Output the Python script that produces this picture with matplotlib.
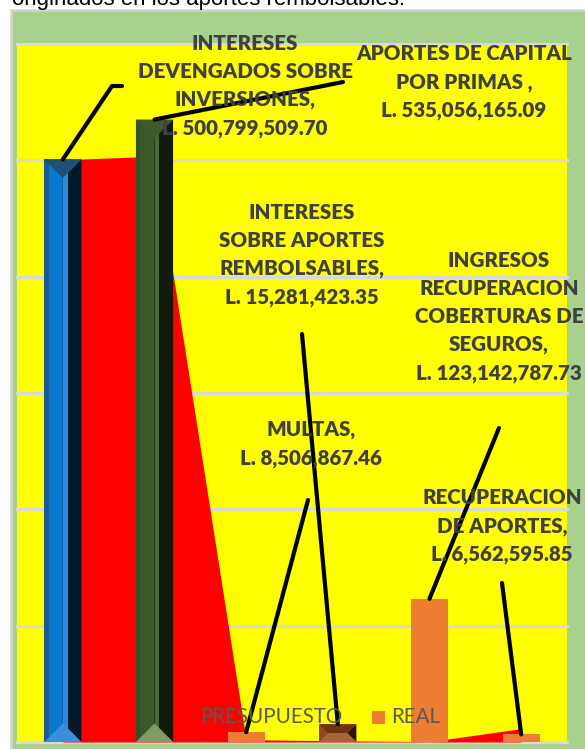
import matplotlib
matplotlib.use("Agg")
import matplotlib.pyplot as plt
from matplotlib.patches import Rectangle, Polygon
import numpy as np

# ---------------- data ----------------
categories = [
    "INTERESES DEVENGADOS SOBRE INVERSIONES",
    "APORTES DE CAPITAL POR PRIMAS ",
    "MULTAS",
    "INTERESES SOBRE APORTES REMBOLSABLES",
    "INGRESOS RECUPERACION COBERTURAS DE SEGUROS",
    "RECUPERACION DE APORTES",
]
label_names = [
    "INTERESES\nDEVENGADOS SOBRE\nINVERSIONES,",
    "APORTES DE CAPITAL\nPOR PRIMAS ,",
    "MULTAS,",
    "INTERESES\nSOBRE APORTES\nREMBOLSABLES,",
    "INGRESOS\nRECUPERACION\nCOBERTURAS DE\nSEGUROS,",
    "RECUPERACION\nDE APORTES,",
]
real = [500799509.70, 535056165.09, 8506867.46, 15281423.35, 123142787.73, 6562595.85]
presupuesto = [500.5e6, 503.5e6, 2.0e6, 1.0e6, 0.3e6, 11.5e6]
series_names = ["PRESUPUESTO", "REAL"]
y_max = 600e6
y_step = 100e6
header_text = "originados en los aportes rembolsables."

# ---------------- layout / style ----------------
W, H = 585, 749
fig = plt.figure(figsize=(W / 100, H / 100), dpi=100)
fig.patch.set_facecolor("white")


def fx(px):
    return px / W


def fy(py):
    return 1 - py / H


# header text (cut off at the top)
fig.text(fx(12), fy(4.5), header_text, ha="left", va="baseline",
         fontsize=16, family="Liberation Sans", color="black")

# green chart frame
frame = Rectangle((fx(11), fy(770)), fx(620) - fx(11), fy(10) - fy(770),
                  transform=fig.transFigure, facecolor="#a9d18e",
                  edgecolor="#d4d4d4", linewidth=1.8, zorder=0)
fig.add_artist(frame)

L, R, T, B = 17, 567, 44, 742
ax = fig.add_axes([fx(L), fy(B), fx(R) - fx(L), fy(T) - fy(B)])
ax.set_facecolor("#ffff00")
n = len(categories)
x = np.arange(n)
ax.set_xlim(-0.5, n - 0.5)
ax.set_ylim(0, y_max)
ax.set_yticks(np.arange(0, y_max + 1, y_step))
ax.yaxis.grid(True, color="#d9d9d9", linewidth=2.2)
ax.set_axisbelow(True)
ax.tick_params(length=0, labelleft=False, labelbottom=False)
ax.set_xticks(x)
for s in ax.spines.values():
    s.set_visible(False)
for gl in ax.yaxis.get_gridlines():
    gl.set_clip_on(False)

sx = (R - L) / n          # pixels per x unit
sy = (B - T) / y_max      # pixels per y unit

# PRESUPUESTO as area
ax.fill_between(x, presupuesto, 0, color="#ff0000", linewidth=0, zorder=1)

# REAL as bars
bar_colors = ["#0a76cc", "#3c5a2a", "#ed7d31", "#9c5530", "#ed7d31", "#ed7d31"]
bars = ax.bar(x, real, width=0.405, color=bar_colors, zorder=2, linewidth=0)

bevels = {
    0: dict(top="#1f4e79", bottom="#3a8fdd", left="#0a76cc", right="#04182c",
            strip="#1b5a93", hl="#2a8ae0"),
    1: dict(top="#3d5b2a", bottom="#7e9c62", left="#3b5829", right="#121b0c",
            strip="#34502a", hl="#4a6a35"),
    3: dict(top="#6e330f", bottom="#a8653c", left="#8e4a20", right="#2a1405",
            strip=None, hl=None),
}


def draw_bevel(rect, c):
    x0 = rect.get_x()
    w = rect.get_width()
    h = rect.get_height()
    x1 = x0 + w
    d = min(w * sx, h * sy) / 2
    dx, dy = d / sx, d / sy
    left = [(x0, 0), (x0 + dx, dy), (x0 + dx, h - dy), (x0, h)]
    right = [(x1, 0), (x1 - dx, dy), (x1 - dx, h - dy), (x1, h)]
    top = [(x0, h), (x1, h), (x1 - dx, h - dy), (x0 + dx, h - dy)]
    bottom = [(x0, 0), (x1, 0), (x1 - dx, dy), (x0 + dx, dy)]
    ax.add_patch(Polygon(left, closed=True, facecolor=c["left"], lw=0, zorder=2.1))
    ax.add_patch(Polygon(right, closed=True, facecolor=c["right"], lw=0, zorder=2.1))
    if c["strip"]:
        ax.add_patch(Rectangle((x0, 0), w * 0.12, h, facecolor=c["strip"], lw=0, zorder=2.15))
        ax.add_patch(Rectangle((x0 + w * 0.5, 0), w * 0.13, h, facecolor=c["hl"], lw=0, zorder=2.15))
    ax.add_patch(Polygon(top, closed=True, facecolor=c["top"], lw=0, zorder=2.2))
    ax.add_patch(Polygon(bottom, closed=True, facecolor=c["bottom"], lw=0, zorder=2.2))


for i, c in bevels.items():
    draw_bevel(bars[i], c)

# data labels with leader lines (positions in pixels from the top-left)
label_pos = [(245, 86), (464, 82), (311, 444), (302, 255), (499, 317), (502, 526)]
leader_end = [(112, 86), (343, 82), (308, 500), (302, 334), (499, 428), (502, 583)]
label_font = dict(family=["Lato", "DejaVu Sans"], fontweight="heavy",
                  fontsize=14.8, color="#404040")

inv = ax.transData.inverted()
for i in range(n):
    txt = f"{label_names[i]}\nL. {real[i]:,.2f}"
    fig.text(fx(label_pos[i][0]), fy(label_pos[i][1]), txt, ha="center",
             va="center", multialignment="center", linespacing=1.55,
             zorder=5, **label_font)
    ex, ey = inv.transform((leader_end[i][0], H - leader_end[i][1]))
    xs = [x[i], ex]
    ys = [real[i], ey]
    if i == 0:
        hx, hy = inv.transform((leader_end[i][0] + 10, H - leader_end[i][1]))
        xs.append(hx)
        ys.append(hy)
    ax.plot(xs, ys, color="black", lw=3, solid_capstyle="round",
            solid_joinstyle="round", clip_on=False, zorder=6)

# legend (manual)
leg_font = dict(family=["Lato", "DejaVu Sans"], fontsize=14.8, color="#595959")
leg_colors = ["#ff0000", "#ed7d31"]
leg_marker_x = [184, 372]
leg_text_x = [200, 391]
leg_y = 717
for k in range(2):
    fig.add_artist(Rectangle((fx(leg_marker_x[k]), fy(leg_y + 6.5)), 13 / W, 13 / H,
                             transform=fig.transFigure, facecolor=leg_colors[k],
                             lw=0, zorder=4))
    fig.text(fx(leg_text_x[k]), fy(leg_y), series_names[k], ha="left", va="center",
             zorder=4, **leg_font)

fig.savefig("out.png", dpi=100, facecolor="white")
